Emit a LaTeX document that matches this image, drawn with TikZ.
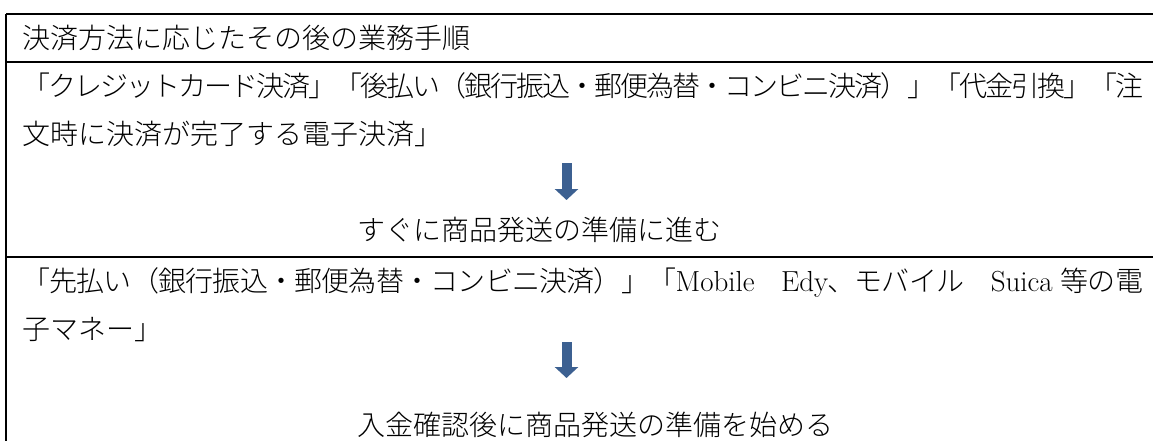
\documentclass[tikz,border=0pt]{standalone}
\usepackage{fontspec}
\IfFontExistsTF{Noto Sans CJK JP Light}
  {\newfontfamily\cjk{Noto Sans CJK JP Light}}
  {\newfontfamily\cjk{Noto Sans CJK JP}}
\usetikzlibrary{arrows.meta}
\definecolor{arrowblue}{RGB}{60,96,145}
\makeatletter
\newcommand\spreadline[2]{\makebox[#1][s]{\let\sp@sep\relax\@tfor\sp@tok:=#2\do{\sp@sep{\sp@tok}\def\sp@sep{\hskip 0pt plus 1fil minus 1fil\relax}}}}
\makeatother
\tikzset{
  txt/.style={anchor=base west, inner sep=0pt, font=\cjk\fontsize{28}{48}\selectfont},
  latin/.style={},
  rule/.style={line width=2pt, black},
  blockarrow/.style={arrowblue, line width=10pt, -{Triangle[length=11pt, width=23pt]}}
}
\newcommand\lat[1]{{\rmfamily\fontsize{29}{48}\selectfont #1}}
\begin{document}
\begin{tikzpicture}[x=1pt,y=-1pt]
\useasboundingbox (0,0) rectangle (1153,441);
% table rules
\coordinate (tl) at (6,14);
\coordinate (tr) at (1153,14);
\coordinate (hl) at (6,62);
\coordinate (hr) at (1153,62);
\coordinate (sl) at (6,257);
\coordinate (sr) at (1153,257);
\coordinate (bl) at (6,441);
\draw[rule] (tl) -- (tr);
\draw[rule] (hl) -- (hr);
\draw[rule] (sl) -- (sr);
\draw[rule] (tl) -- (bl);
% header
\node[txt] (head) at (22,48.6) {決済方法に応じたその後の業務手順};
% row 2
\node[txt] (r2a) at (22,96.6) {\spreadline{1121pt}{「クレジットカード決済」「後払い（銀行振込・郵便為替・コンビニ決済）」「代金引換」「注}};
\node[txt] (r2b) at (22,144.6) {文時に決済が完了する電子決済」};
\coordinate (a1s) at (566.5,163);
\coordinate (a1e) at (566.5,200);
\draw[blockarrow] (a1s) -- (a1e);
\node[txt] (r2c) at (357,240.6) {すぐに商品発送の準備に進む};
% row 3
\node[txt] (r3a) at (22,291.6) {\spreadline{1121pt}{「先払い（銀行振込・郵便為替・コンビニ決済）」「{\lat{Mobile}}　{\lat{Edy}}、モバイル　{\lat{Suica\ }}等の電}};
\node[txt] (r3b) at (22,339.6) {子マネー」};
\coordinate (a2s) at (566.5,342);
\coordinate (a2e) at (566.5,378);
\draw[blockarrow] (a2s) -- (a2e);
\node[txt] (r3c) at (357,435.6) {入金確認後に商品発送の準備を始める};
\end{tikzpicture}
\end{document}
